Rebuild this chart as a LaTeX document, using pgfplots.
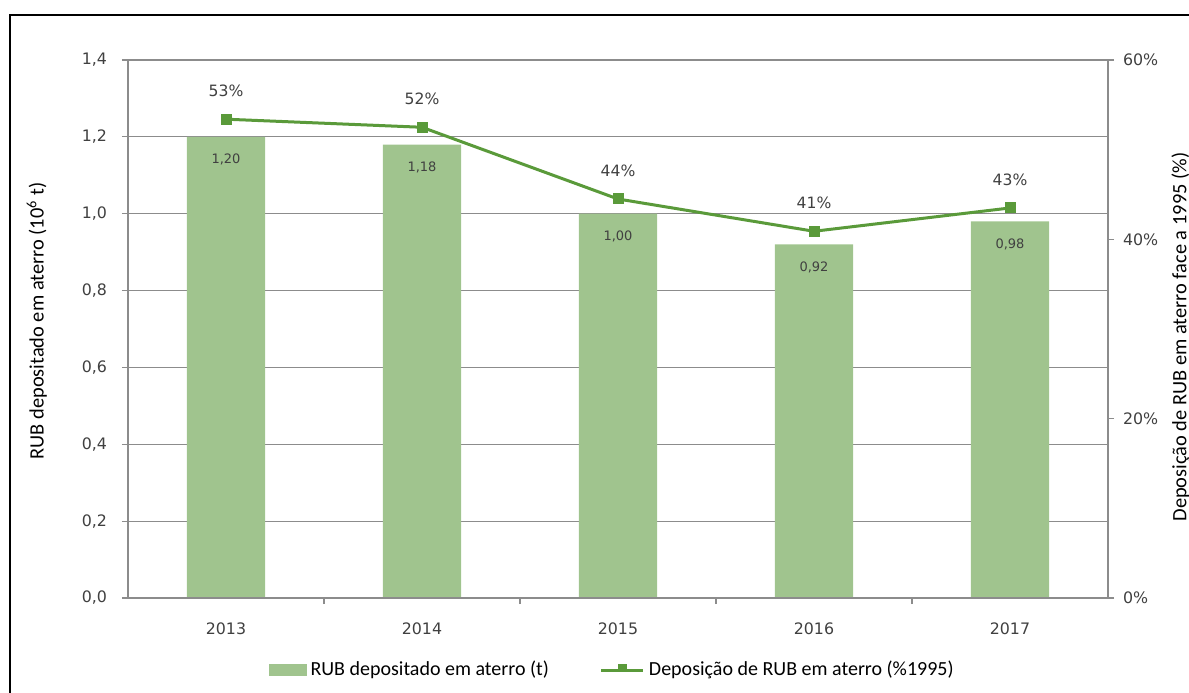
\documentclass[border=0pt]{standalone}
\usepackage{fontspec}
\setmainfont{Carlito}
\newfontfamily\verd{DejaVu Sans}
\usepackage{pgfplots}
\pgfplotsset{compat=1.18}
\definecolor{barg}{HTML}{A0C48E}
\definecolor{lineg}{HTML}{5A9A3A}
\definecolor{gridg}{HTML}{8C8C8C}
\definecolor{txt}{HTML}{404040}
\newcommand{\tickfont}{\verd\fontsize{7.9}{9}\selectfont}
\newcommand{\labfont}{\fontsize{10.2}{12}\selectfont}

\begin{document}
\begin{tikzpicture}
\useasboundingbox (-64pt,-47pt) rectangle (530.5pt,299pt);
\begin{scope}
\clip (-64pt,-47pt) rectangle (530.5pt,299pt);
\draw[line width=1pt] (-59pt,-60pt) -- (-59pt,291.5pt) -- (540pt,291.5pt);
\end{scope}

\begin{axis}[
  width=490pt, height=269pt, scale only axis,
  xmin=-0.5, xmax=4.5, ymin=0, ymax=1.4,
  axis x line*=bottom, axis y line*=left,
  axis line style={gridg, line width=0.6pt},
  xtick={0,...,4}, xticklabels={2013,2014,2015,2016,2017},
  x tick style={draw=none},
  xticklabel style={font=\tickfont, text=txt, yshift=-6pt},
  ytick={0,0.2,...,1.4},
  y tick style={gridg, line width=0.6pt},
  tick align=outside, major tick length=3pt,
  yticklabel style={font=\tickfont, text=txt, xshift=-4pt},
  /pgf/number format/.cd, use comma, fixed, fixed zerofill, precision=1, assume math mode=true,
  /pgfplots/.cd,
  ymajorgrids, grid style={gridg, line width=0.6pt},
  ylabel={RUB depositado em aterro (10\textsuperscript{6} t)},
  every axis y label/.style={at={(axis description cs:-0.093,0.515)}, rotate=90, anchor=center, font=\labfont},
  legend style={at={(0.495,-0.134)}, anchor=center, draw=none, font=\fontsize{10}{12}\selectfont,
    legend columns=2, /tikz/every even column/.append style={column sep=23.5pt}},
]
\addplot[ybar, bar width=0.4, fill=barg, draw=none,
  legend image code/.code={\fill[barg] (0pt,-3pt) rectangle (19pt,3pt);},
  point meta=explicit symbolic, nodes near coords,
  every node near coord/.append style={anchor=center, yshift=-11.5pt, font=\verd\fontsize{6.5}{7}\selectfont, text=txt}]
  coordinates {(0,1.20) [{1,20}] (1,1.18) [{1,18}] (2,1.00) [{1,00}] (3,0.92) [{0,92}] (4,0.98) [{0,98}]};
\addlegendentry{RUB depositado em aterro (t)}
\addlegendimage{legend image code/.code={
  \draw[lineg, line width=1.5pt] (0pt,0pt) -- (21pt,0pt);
  \fill[lineg] (8.5pt,0pt) rectangle (12.5pt,3pt);}}
\addlegendentry{Deposição de RUB em aterro (\%1995)}
\end{axis}

\begin{axis}[
  width=490pt, height=269pt, scale only axis,
  xmin=-0.5, xmax=4.5, ymin=0, ymax=60,
  axis x line*=bottom, axis y line*=right,
  axis line style={gridg, line width=0.6pt},
  xtick={0.5,1.5,2.5,3.5}, xticklabels={},
  ytick={0,20,40,60},
  tick style={gridg, line width=0.6pt},
  tick align=outside, major tick length=3pt,
  yticklabel={\pgfmathprintnumber{\tick}\%},
  yticklabel style={font=\tickfont, text=txt, xshift=1pt},
  /pgf/number format/assume math mode=true,
  ylabel={Deposição de RUB em aterro face a 1995 (\%)},
  every axis y label/.style={at={(axis description cs:1.074,0.485)}, rotate=90, anchor=center, font=\labfont},
]
\addplot[lineg, line width=1.5pt, mark=square*, mark size=2pt,
  point meta=explicit symbolic, nodes near coords,
  every node near coord/.append style={anchor=center, yshift=14pt, font=\verd\fontsize{7.8}{9}\selectfont, text=txt}]
  coordinates {(0,53.4) [53\%] (1,52.5) [52\%] (2,44.5) [44\%] (3,40.9) [41\%] (4,43.5) [43\%]};
\end{axis}
\end{tikzpicture}
\end{document}
